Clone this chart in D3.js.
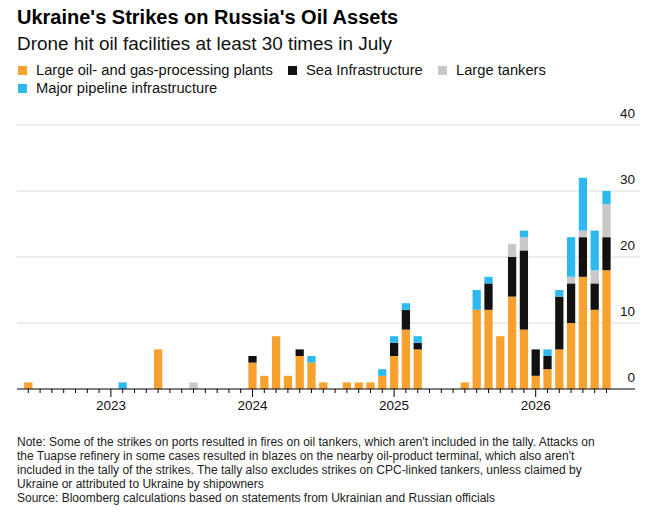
<!DOCTYPE html>
<html>
<head>
<meta charset="utf-8">
<script src="https://cdn.jsdelivr.net/npm/d3@7"></script>
<style>
  body { margin: 0; background: #fff; }
  text { font-family: "Liberation Sans", Arial, sans-serif; }
</style>
</head>
<body>
<div id="chart"></div>
<script>
// monthly strike counts, Jun 2022 .. Jul 2026
var months = d3.timeMonth.range(new Date(2022, 5, 1), new Date(2026, 7, 1));

var plants = [1,0,0,0,0,0,0,0,0,0, 0,6,0,0,0,0,0,0,0,4, 2,8,2,5,4,1,0,1,1,1, 2,5,9,6,0,0,0,1,12,12, 8,14,9,2,3,6,10,17,12,18];
var sea = [0,0,0,0,0,0,0,0,0,0, 0,0,0,0,0,0,0,0,0,1, 0,0,0,1,0,0,0,0,0,0, 0,2,3,1,0,0,0,0,0,4, 0,6,12,4,2,8,6,6,4,5];
var tankers = [0,0,0,0,0,0,0,0,0,0, 0,0,0,0,1,0,0,0,0,0, 0,0,0,0,0,0,0,0,0,0, 0,0,0,0,0,0,0,0,0,0, 0,2,2,0,0,0,1,1,2,5];
var pipeline = [0,0,0,0,0,0,0,0,1,0, 0,0,0,0,0,0,0,0,0,0, 0,0,0,0,1,0,0,0,0,0, 1,1,1,1,0,0,0,0,3,1, 0,0,1,0,1,1,6,8,6,2];

var seriesNames = ["Large oil- and gas-processing plants", "Sea Infrastructure", "Large tankers", "Major pipeline infrastructure"];
var seriesKeys = ["plants", "sea", "tankers", "pipeline"];
var colors = ["#f9a12e", "#111111", "#c8c8c8", "#2db8f0"];
var yTicks = [0, 10, 20, 30, 40];
var yearTicks = ["2023", "2024", "2025", "2026"];

var width = 650, height = 521;

var svg = d3.select("#chart").append("svg")
    .attr("width", width)
    .attr("height", height);

var table = months.map(function(m, i) {
  return {month: m, plants: plants[i], sea: sea[i], tankers: tankers[i], pipeline: pipeline[i]};
});

var stacked = d3.stack().keys(seriesKeys)(table);

var x = d3.scaleBand()
    .domain(months)
    .range([22.4, 612.4])
    .paddingInner(0.3)
    .paddingOuter(0.15);

var y = d3.scaleLinear()
    .domain([0, 40])
    .range([389, 125]);

// title + subtitle
svg.append("text")
    .attr("x", 17).attr("y", 24)
    .attr("font-size", 20).attr("font-weight", "bold")
    .attr("fill", "#000")
    .text("Ukraine's Strikes on Russia's Oil Assets");

svg.append("text")
    .attr("x", 17).attr("y", 50)
    .attr("font-size", 18.9)
    .attr("fill", "#111")
    .text("Drone hit oil facilities at least 30 times in July");

// legend
var legendPos = [[18, 75], [288, 75], [438, 75], [18, 93]];
var legend = svg.append("g");
seriesNames.forEach(function(name, i) {
  var g = legend.append("g")
      .attr("transform", "translate(" + legendPos[i][0] + "," + legendPos[i][1] + ")");
  g.append("rect")
      .attr("x", 0).attr("y", -9)
      .attr("width", 9).attr("height", 9)
      .attr("fill", colors[i]);
  g.append("text")
      .attr("x", 18).attr("y", 0)
      .attr("font-size", 14.7)
      .attr("fill", "#111")
      .text(name);
});

// gridlines
svg.append("g").selectAll("line")
    .data(yTicks.filter(function(d) { return d > 0; }))
  .enter().append("line")
    .attr("x1", 17).attr("x2", 640)
    .attr("y1", function(d) { return y(d); })
    .attr("y2", function(d) { return y(d); })
    .attr("stroke", "#dcdcdc")
    .attr("stroke-width", 1);

svg.append("g").selectAll("text")
    .data(yTicks)
  .enter().append("text")
    .attr("x", 635)
    .attr("y", function(d) { return y(d) - 7; })
    .attr("text-anchor", "end")
    .attr("font-size", 13.5)
    .attr("fill", "#111")
    .text(function(d) { return d; });

// bars
svg.append("g").selectAll("g")
    .data(stacked)
  .enter().append("g")
    .attr("fill", function(d, i) { return colors[i]; })
  .selectAll("rect")
    .data(function(d) { return d.filter(function(p) { return p[1] > p[0]; }); })
  .enter().append("rect")
    .attr("x", function(d) { return x(d.data.month); })
    .attr("width", x.bandwidth())
    .attr("y", function(d) { return y(d[1]); })
    .attr("height", function(d) { return y(d[0]) - y(d[1]); });

// x axis
var xAxis = svg.append("g").attr("transform", "translate(0,389)");
xAxis.append("line")
    .attr("x1", 17).attr("x2", 635)
    .attr("stroke", "#000").attr("stroke-width", 1);

xAxis.selectAll(".tick")
    .data(months)
  .enter().append("line")
    .attr("class", "tick")
    .attr("x1", function(d) { return x(d) + x.bandwidth() / 2; })
    .attr("x2", function(d) { return x(d) + x.bandwidth() / 2; })
    .attr("y1", 0)
    .attr("y2", function(d) { return d.getMonth() === 0 ? 8 : 4; })
    .attr("stroke", "#000").attr("stroke-width", 1);

xAxis.selectAll(".year")
    .data(months.filter(function(d) { return d.getMonth() === 0; }))
  .enter().append("text")
    .attr("class", "year")
    .attr("x", function(d) { return x(d) + x.bandwidth() / 2; })
    .attr("y", 21)
    .attr("text-anchor", "middle")
    .attr("font-size", 13.5)
    .attr("fill", "#111")
    .text(function(d, i) { return yearTicks[i]; });

// notes
var notes = [
  "Note: Some of the strikes on ports resulted in fires on oil tankers, which aren't included in the tally. Attacks on",
  "the Tuapse refinery in some cases resulted in blazes on the nearby oil-product terminal, which also aren't",
  "included in the tally of the strikes. The tally also excludes strikes on CPC-linked tankers, unless claimed by",
  "Ukraine or attributed to Ukraine by shipowners",
  "Source: Bloomberg calculations based on statements from Ukrainian and Russian officials"
];
svg.append("g").selectAll("text")
    .data(notes)
  .enter().append("text")
    .attr("x", 17)
    .attr("y", function(d, i) { return 446 + i * 14; })
    .attr("font-size", 12)
    .attr("fill", "#222")
    .text(function(d) { return d; });
</script>
</body>
</html>
